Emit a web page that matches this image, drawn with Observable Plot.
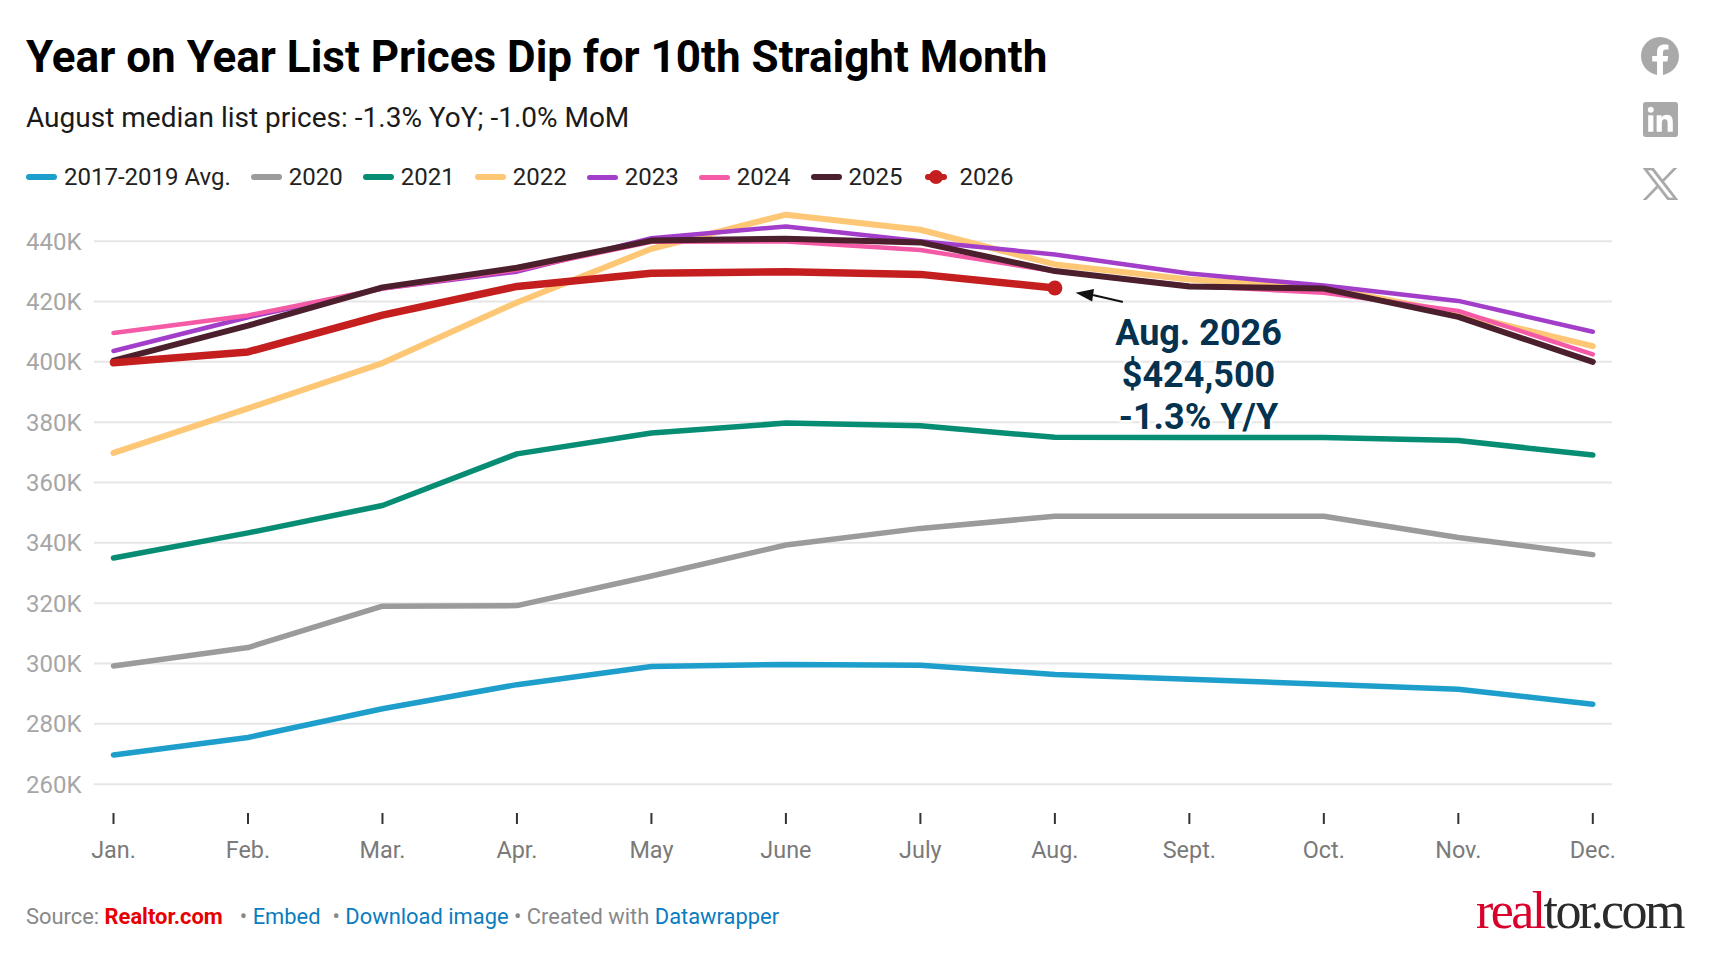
<!DOCTYPE html>
<html>
<head>
<meta charset="utf-8">
<script src="https://cdn.jsdelivr.net/npm/d3@7"></script>
<script src="https://cdn.jsdelivr.net/npm/@observablehq/plot@0.6"></script>
<style>
  html,body{margin:0;padding:0;background:#fff;}
  body{width:1720px;height:960px;position:relative;overflow:hidden;font-family:Roboto,sans-serif;}
  .abs{position:absolute;white-space:nowrap;}
  #title{left:26px;top:31.5px;font-size:44px;line-height:50px;font-weight:700;color:#000;}
  #subtitle{left:26px;top:102px;font-size:28px;line-height:32px;color:#1a1a1a;}
  #legend{left:26px;top:162px;height:30px;display:flex;align-items:center;font-size:24px;line-height:30px;color:#222;}
  .item{display:flex;align-items:center;margin-right:20px;}
  .sw{width:31px;border-radius:4px;margin-right:7px;position:relative;}
  #chart{position:absolute;left:0;top:190px;}
  #chart svg{display:block;overflow:visible;}
  #footer{left:26px;top:902px;font-size:21.9px;line-height:30px;color:#888;}
  #footer .b{color:#0a7cc0;}
  #footer .r{color:#e60000;font-weight:700;}
  #logo{left:1476px;top:877px;font-family:"Liberation Serif",serif;font-size:52px;line-height:68px;letter-spacing:-2.6px;color:#2b2b2b;}
  #logo span{color:#d9002c;}
  .ic{position:absolute;fill:#a9a9a9;}
</style>
</head>
<body>
<div id="title" class="abs">Year on Year List Prices Dip for 10th Straight Month</div>
<div id="subtitle" class="abs">August median list prices: -1.3% YoY; -1.0% MoM</div>
<div id="legend" class="abs"></div>
<div id="chart"></div>
<div id="footer" class="abs">Source: <span class="r">Realtor.com</span><span style="margin-left:17px">• </span><span class="b">Embed</span><span style="margin-left:12px">• </span><span class="b">Download image</span><span> • Created with </span><span class="b">Datawrapper</span></div>
<div id="logo" class="abs"><span>real</span>tor.com</div>
<svg class="ic" style="left:1641px;top:37px" width="38" height="38" viewBox="0 0 24 24"><path d="M24 12.073c0-6.627-5.373-12-12-12s-12 5.373-12 12c0 5.99 4.388 10.954 10.125 11.854v-8.385H7.078v-3.47h3.047V9.43c0-3.007 1.792-4.669 4.533-4.669 1.312 0 2.686.235 2.686.235v2.953H15.83c-1.491 0-1.956.925-1.956 1.874v2.25h3.328l-.532 3.47h-2.796v8.385C19.612 23.027 24 18.062 24 12.073z"/></svg>
<svg class="ic" style="left:1642.5px;top:102px" width="35" height="35" viewBox="0 0 24 24"><path d="M20.447 20.452h-3.554v-5.569c0-1.328-.027-3.037-1.852-3.037-1.853 0-2.136 1.445-2.136 2.939v5.667H9.351V9h3.414v1.561h.046c.477-.9 1.637-1.85 3.37-1.85 3.601 0 4.267 2.37 4.267 5.455v6.286zM5.337 7.433c-1.144 0-2.063-.926-2.063-2.065 0-1.138.92-2.063 2.063-2.063 1.14 0 2.064.925 2.064 2.063 0 1.139-.925 2.065-2.064 2.065zm1.782 13.019H3.555V9h3.564v11.452zM22.225 0H1.771C.792 0 0 .774 0 1.729v20.542C0 23.227.792 24 1.771 24h20.451C23.2 24 24 23.227 24 22.271V1.729C24 .774 23.2 0 22.222 0h.003z"/></svg>
<svg class="ic" style="left:1642.5px;top:168px;stroke:#a9a9a9;stroke-width:25" width="35" height="32" viewBox="0 0 1200 1227" preserveAspectRatio="none"><path d="M714.163 519.284L1160.89 0H1055.03L667.137 450.887L357.328 0H0L468.492 681.821L0 1226.37H105.866L515.491 750.218L842.672 1226.37H1200L714.137 519.284H714.163ZM569.165 687.828L521.697 619.934L144.011 79.6944H306.615L611.412 515.685L658.88 583.579L1055.08 1150.3H892.476L569.165 687.854V687.828Z"/></svg>
<script>
const months = ["Jan.","Feb.","Mar.","Apr.","May","June","July","Aug.","Sept.","Oct.","Nov.","Dec."];
const yTicks = [260000,280000,300000,320000,340000,360000,380000,400000,420000,440000];

const avg20172019 = [269700,275500,285000,293000,299000,299700,299400,296400,294800,293100,291500,286500];
const y2020 = [299200,305300,319000,319200,329000,339300,344800,348800,348800,348800,341800,336100];
const y2021 = [335000,343300,352400,369500,376400,379700,378800,375000,374900,374900,373900,369100];
const y2022 = [369800,384600,399600,419700,437500,448800,443800,432300,427300,424700,416000,405200];
const y2023 = [403600,414800,424300,429900,441000,444900,440000,435600,429300,425300,420200,410000];
const y2024 = [409600,415400,424300,430500,439800,439900,437100,430000,425200,422900,416900,402500];
const y2025 = [400400,412000,424700,431200,440200,440800,439600,430100,425000,424300,414900,400000];
const y2026 = [399700,403300,415500,425000,429400,429900,429000,424500];

const seriesNames  = ["2017-2019 Avg.","2020","2021","2022","2023","2024","2025","2026"];
const seriesValues = [avg20172019,y2020,y2021,y2022,y2023,y2024,y2025,y2026];
const seriesColors = ["#1d9ecb","#9b9b9b","#078d73","#fdc775","#a23ec9","#f55aa6","#4b1f2c","#c41e1e"];
const seriesWidths = [5.5,5.5,5.5,6,4.5,4.5,6,7.5];

const noteText = "Aug. 2026\n$424,500\n-1.3% Y/Y";
const noteAt = [{m:8.068, v:396150}];
const arrowAt = [{m1:7.5, v1:419900, m2:7.29, v2:422100}];
const arrowHead = [{m:7.225, v:422450}];
const arrowSymbol = {draw(c,s){const r=Math.sqrt(s/Math.PI);c.moveTo(0,-r*1.2);c.lineTo(r*.8,r);c.lineTo(-r*.8,r);c.closePath();}};

// legend
const legend = document.getElementById("legend");
seriesNames.forEach((n,i)=>{
  const it = document.createElement("div"); it.className="item";
  const sw = document.createElement("div"); sw.className="sw";
  const isLast = i===seriesNames.length-1;
  sw.style.height = Math.max(4,seriesWidths[i]+0.5)+"px";
  sw.style.background = seriesColors[i];
  if(isLast){
    sw.style.width="22px"; sw.style.height="6px"; sw.style.marginRight="13px"; sw.style.marginLeft="2px";
    const d=document.createElement("div");
    d.style.cssText="position:absolute;left:4px;top:-4px;width:14px;height:14px;border-radius:50%;background:"+seriesColors[i];
    sw.appendChild(d);
  }
  const t=document.createElement("span"); t.textContent=n;
  it.append(sw,t); legend.append(it);
});

const plot = Plot.plot({
  width:1720, height:690,
  marginLeft:94, marginRight:108, marginTop:30, marginBottom:67,
  style:{fontFamily:"Roboto, sans-serif", background:"transparent"},
  x:{type:"linear", domain:[0,11], range:[113,1592.3]},
  y:{type:"linear", domain:[260000,440000], range:[593.7,50.7]},
  marks:[
    Plot.gridY(yTicks,{stroke:"#e6e6e6",strokeWidth:2,strokeOpacity:1}),
    Plot.axisY(yTicks,{anchor:"left",label:null,tickSize:0,tickPadding:13,dy:0.8,fontSize:24,fill:"#a6a6a6",tickFormat:d=>d/1000+"K"}),
    Plot.axisX(d3.range(months.length),{anchor:"bottom",label:null,tickSize:11,tickPadding:16.5,fontSize:23.4,fill:"#7a7a7a",stroke:"#333",strokeWidth:2,tickFormat:i=>months[i]}),
    ...seriesValues.map((vals,i)=>Plot.line(vals,{x:(d,j)=>j,y:d=>d,stroke:seriesColors[i],strokeWidth:seriesWidths[i]})),
    Plot.dot(y2026.slice(-1),{x:()=>y2026.length-1,y:d=>d,r:7.5,fill:seriesColors[7]}),
    Plot.arrow(arrowAt,{x1:"m1",y1:"v1",x2:"m2",y2:"v2",stroke:"#111",strokeWidth:2,headLength:0}),
    Plot.dot(arrowHead,{x:"m",y:"v",symbol:arrowSymbol,r:8,rotate:-82,fill:"#111"}),
    Plot.text([noteText],{x:()=>noteAt[0].m,y:()=>noteAt[0].v,text:d=>d,lineHeight:1.16,fontSize:36,fontWeight:700,fill:"#04324f",stroke:"#fff",strokeWidth:5,textAnchor:"middle"})
  ]
});
document.getElementById("chart").append(plot);
</script>
</body>
</html>
